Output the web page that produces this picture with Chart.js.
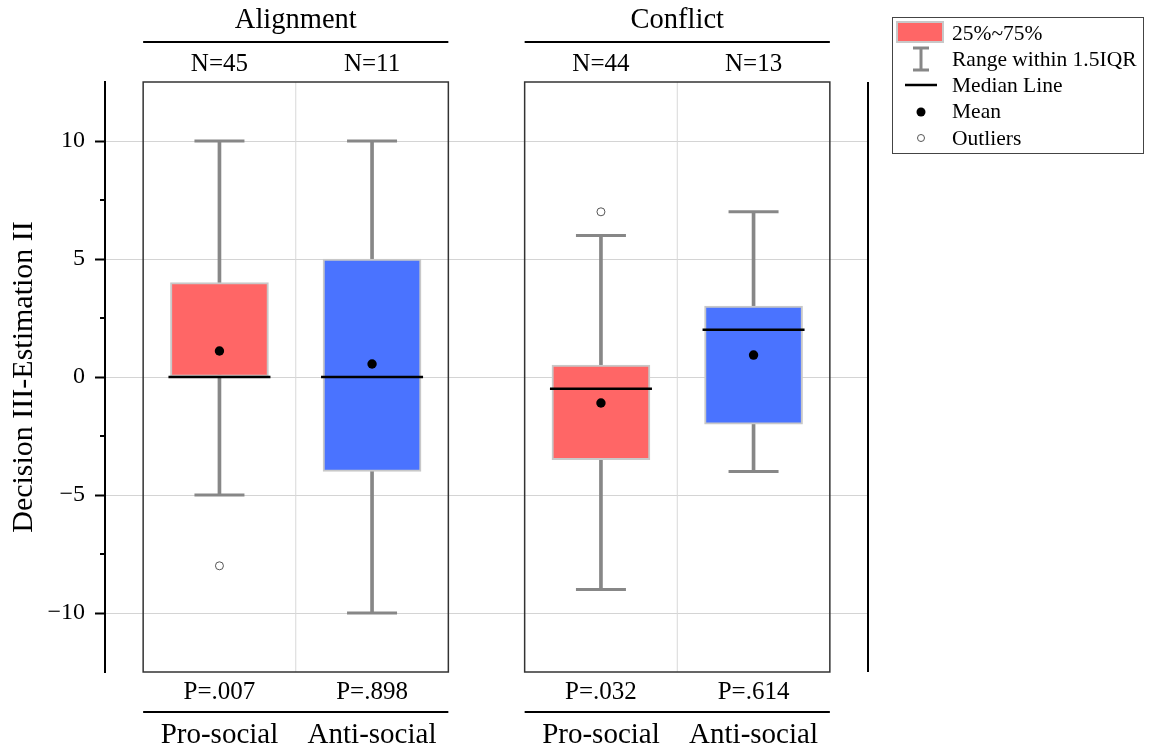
<!DOCTYPE html>
<html>
<head>
<meta charset="utf-8">
<script src="https://cdn.jsdelivr.net/npm/chart.js@4/dist/chart.umd.min.js"></script>
<style>
  html, body { margin: 0; padding: 0; background: #fff; }
  #wrap { width: 1154px; height: 747px; }
</style>
</head>
<body>
<div id="wrap"><canvas id="chart" width="1154" height="747"></canvas></div>
<script>
// groups and categories
const groups = ['Alignment', 'Conflict'];
const categories = ['Pro-social', 'Anti-social', 'Pro-social', 'Anti-social'];
const nLabels = ['N=45', 'N=11', 'N=44', 'N=13'];
const pLabels = ['P=.007', 'P=.898', 'P=.032', 'P=.614'];

// box plot values
const q1 = [0, -4, -3.5, -2];
const q3 = [4, 5, 0.5, 3];
const medians = [0, 0, -0.5, 2];
const means = [1.1, 0.55, -1.1, 0.93];
const whiskerLow = [-5, -10, -9, -4];
const whiskerHigh = [10, 10, 6, 7];
const outliers = [[-8], [], [7], []];

// y axis
const yTicks = [-10, -5, 0, 5, 10];
const yMinorTicks = [-7.5, -2.5, 2.5, 7.5];

// legend
const legendLabels = ['25%~75%', 'Range within 1.5IQR', 'Median Line', 'Mean', 'Outliers'];

const SERIF = '"Liberation Serif", "Times New Roman", serif';
const RED = '#ff6666';
const BLUE = '#4a73ff';
const WHISKER = '#878787';

// each category is one unit wide, with half a unit between the two groups
const xPos = i => 0.75 + i + (i >= 2 ? 0.5 : 0);
const colorOf = c => c === 'Pro-social' ? RED : BLUE;
const idx = categories.map((_, i) => i);

const decor = {
  id: 'decor',
  beforeDatasetsDraw(chart) {
    const {ctx, chartArea: a, scales: {x}} = chart;
    ctx.save();
    // light dividers between the two boxes of a group
    ctx.strokeStyle = '#d8d8d8';
    ctx.lineWidth = 1;
    groups.forEach((g, gi) => {
      const px = x.getPixelForValue((xPos(2 * gi) + xPos(2 * gi + 1)) / 2);
      ctx.beginPath();
      ctx.moveTo(px, a.top);
      ctx.lineTo(px, a.bottom);
      ctx.stroke();
    });
    // panel frames
    ctx.strokeStyle = '#333';
    ctx.lineWidth = 1.5;
    groups.forEach((g, gi) => {
      const l = x.getPixelForValue(xPos(2 * gi) - 0.5);
      const r = x.getPixelForValue(xPos(2 * gi + 1) + 0.5);
      ctx.strokeRect(l, a.top, r - l, a.bottom - a.top);
    });
    ctx.restore();
  },
  afterDraw(chart) {
    const {ctx, chartArea: a, scales: {x, y}} = chart;
    ctx.save();

    // right-hand axis line
    ctx.strokeStyle = '#000';
    ctx.lineWidth = 2;
    ctx.beginPath();
    ctx.moveTo(a.right, a.top);
    ctx.lineTo(a.right, a.bottom);
    ctx.stroke();

    // minor ticks on the y axis
    yMinorTicks.forEach(v => {
      const py = y.getPixelForValue(v);
      ctx.beginPath();
      ctx.moveTo(a.left - 5, py);
      ctx.lineTo(a.left, py);
      ctx.stroke();
    });

    ctx.fillStyle = '#000';
    ctx.textAlign = 'center';
    ctx.textBaseline = 'alphabetic';

    groups.forEach((g, gi) => {
      const l = x.getPixelForValue(xPos(2 * gi) - 0.5);
      const r = x.getPixelForValue(xPos(2 * gi + 1) + 0.5);
      // group title and rules above / below
      ctx.font = '28.5px ' + SERIF;
      ctx.fillText(g, (l + r) / 2, 28);
      ctx.lineWidth = 2;
      ctx.beginPath();
      ctx.moveTo(l, 42); ctx.lineTo(r, 42);
      ctx.moveTo(l, 712); ctx.lineTo(r, 712);
      ctx.stroke();
    });

    idx.forEach(i => {
      const px = x.getPixelForValue(xPos(i));
      ctx.font = '25px ' + SERIF;
      ctx.fillText(nLabels[i], px, 71);
      ctx.fillText(pLabels[i], px, 699);
      ctx.font = '29px ' + SERIF;
      ctx.fillText(categories[i], px, 743);
    });

    // legend
    ctx.lineWidth = 1;
    ctx.strokeStyle = '#444';
    ctx.strokeRect(892.5, 17.5, 251, 136);
    ctx.fillStyle = RED;
    ctx.fillRect(896, 21, 48, 22);
    ctx.strokeStyle = '#c8c8c8';
    ctx.lineWidth = 2;
    ctx.strokeRect(897, 22, 46, 20);
    ctx.strokeStyle = WHISKER;
    ctx.lineWidth = 3;
    ctx.beginPath();
    ctx.moveTo(921, 48); ctx.lineTo(921, 70);
    ctx.moveTo(913, 48); ctx.lineTo(929, 48);
    ctx.moveTo(913, 70); ctx.lineTo(929, 70);
    ctx.stroke();
    ctx.strokeStyle = '#000';
    ctx.lineWidth = 2.5;
    ctx.beginPath();
    ctx.moveTo(905, 85); ctx.lineTo(937, 85);
    ctx.stroke();
    ctx.fillStyle = '#000';
    ctx.beginPath();
    ctx.arc(921, 112, 4.5, 0, Math.PI * 2);
    ctx.fill();
    ctx.fillStyle = '#fff';
    ctx.strokeStyle = '#555';
    ctx.lineWidth = 1;
    ctx.beginPath();
    ctx.arc(921, 138, 3.5, 0, Math.PI * 2);
    ctx.fill();
    ctx.stroke();

    ctx.fillStyle = '#000';
    ctx.textAlign = 'left';
    ctx.font = '21.5px ' + SERIF;
    const baselines = [40, 66, 92, 118, 145];
    legendLabels.forEach((t, k) => ctx.fillText(t, 952, baselines[k]));

    ctx.restore();
  }
};

const ctx = document.getElementById('chart').getContext('2d');
new Chart(ctx, {
  type: 'bar',
  data: {
    datasets: [
      {
        label: 'whisker',
        data: idx.map(i => ({x: xPos(i), y: [whiskerLow[i], whiskerHigh[i]]})),
        backgroundColor: WHISKER,
        borderWidth: 0,
        barThickness: 3,
        grouped: false,
        order: 5
      },
      {
        label: '25%~75%',
        data: idx.map(i => ({x: xPos(i), y: [q1[i], q3[i]]})),
        backgroundColor: categories.map(colorOf),
        borderColor: '#c8c8c8',
        borderWidth: 2,
        borderSkipped: false,
        barThickness: 98,
        grouped: false,
        order: 4
      },
      {
        type: 'scatter',
        label: 'caps',
        data: idx.flatMap(i => [{x: xPos(i), y: whiskerLow[i]}, {x: xPos(i), y: whiskerHigh[i]}]),
        pointStyle: 'line',
        radius: 25,
        borderWidth: 3,
        borderColor: WHISKER,
        order: 3
      },
      {
        type: 'scatter',
        label: 'Median Line',
        data: idx.map(i => ({x: xPos(i), y: medians[i]})),
        pointStyle: 'line',
        radius: 51,
        borderWidth: 2.5,
        borderColor: '#000',
        order: 2
      },
      {
        type: 'scatter',
        label: 'Mean',
        data: idx.map(i => ({x: xPos(i), y: means[i]})),
        pointStyle: 'circle',
        radius: 4.7,
        backgroundColor: '#000',
        borderWidth: 0,
        order: 1
      },
      {
        type: 'scatter',
        label: 'Outliers',
        data: idx.flatMap(i => outliers[i].map(v => ({x: xPos(i), y: v}))),
        pointStyle: 'circle',
        radius: 4,
        backgroundColor: '#fff',
        borderColor: '#555',
        borderWidth: 1,
        order: 1
      }
    ]
  },
  options: {
    responsive: false,
    devicePixelRatio: 1,
    animation: false,
    events: [],
    layout: { padding: { left: 0, top: 82, right: 286, bottom: 75 } },
    plugins: { legend: { display: false }, tooltip: { enabled: false } },
    scales: {
      x: {
        type: 'linear',
        min: 0,
        max: 5,
        offset: false,
        display: false,
        grid: { display: false }
      },
      y: {
        type: 'linear',
        min: -12.5,
        max: 12.5,
        afterBuildTicks: s => { s.ticks = yTicks.map(v => ({value: v})); },
        afterFit: s => { s.width = 105; },
        border: { display: true, color: '#000', width: 2 },
        grid: {
          color: '#d4d4d4',
          lineWidth: 1,
          tickLength: 10,
          tickColor: '#000',
          tickWidth: 2
        },
        ticks: {
          padding: 10,
          color: '#000',
          font: { family: SERIF, size: 24 },
          callback: v => v < 0 ? '\u2212' + Math.abs(v) : String(v)
        },
        title: {
          display: true,
          text: 'Decision III-Estimation II',
          color: '#000',
          font: { family: SERIF, size: 30 },
          padding: { top: 6, bottom: 0 }
        }
      }
    }
  },
  plugins: [decor]
});
</script>
</body>
</html>
